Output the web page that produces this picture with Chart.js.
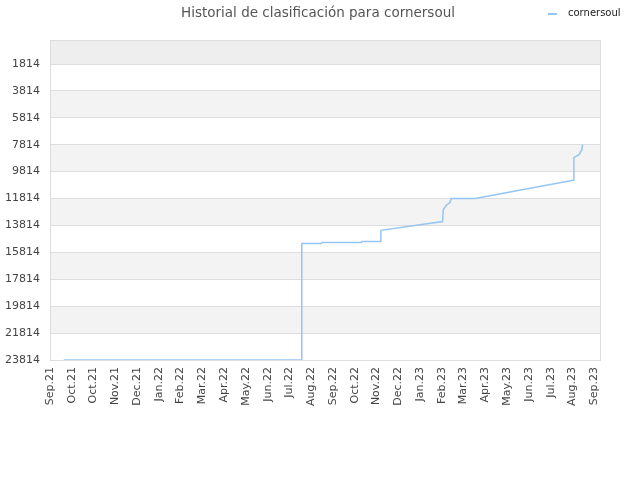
<!DOCTYPE html>
<html>
<head>
<meta charset="utf-8">
<script src="https://cdn.jsdelivr.net/npm/chart.js@4"></script>
<style>
html,body{margin:0;padding:0;background:#fff;}
#c{display:block;}
</style>
</head>
<body>
<canvas id="c" width="640" height="480"></canvas>
<script>
const chartTitle = 'Historial de clasificación para cornersoul';
const seriesName = 'cornersoul';
const startDate = '2021-09-01';
const dates = ['2021-09-20','2022-08-13','2022-08-14','2022-09-10','2022-09-11','2022-11-04','2022-11-05','2022-11-30','2022-12-01','2023-02-24','2023-02-25','2023-03-01','2023-03-06','2023-03-08','2023-04-10','2023-08-23','2023-08-24','2023-08-31','2023-09-04','2023-09-05'];
const ranks = [23814,23814,15150,15150,15075,15075,15000,15000,14180,13520,12630,12330,12110,11814,11814,10450,8780,8550,8180,7814];
const xTickLabels = ['Sep.21','Oct.21','Oct.21','Nov.21','Dec.21','Jan.22','Feb.22','Mar.22','Apr.22','May.22','Jun.22','Jul.22','Aug.22','Sep.22','Oct.22','Nov.22','Dec.22','Jan.23','Feb.23','Mar.23','Apr.23','May.23','Jun.23','Jul.23','Aug.23','Sep.23'];
const yTickValues = [1814,3814,5814,7814,9814,11814,13814,15814,17814,19814,21814,23814];
const tickStepDays = 30;
const xMaxDays = 758;
const yTop = 30;

function dayNum(s){
  const [y,m,d] = s.split('-').map(Number);
  const [y0,m0,d0] = startDate.split('-').map(Number);
  return (Date.UTC(y,m-1,d) - Date.UTC(y0,m0-1,d0)) / 86400000;
}
const points = dates.map((d,i)=>({x:dayNum(d), y:ranks[i]}));

const FONT = "'DejaVu Sans', Verdana, sans-serif";

const bandsPlugin = {
  id:'bands',
  beforeDraw(chart){
    const {ctx, chartArea:a, scales:{y}} = chart;
    ctx.save();
    ctx.fillStyle = '#ffffff';
    ctx.fillRect(a.left, a.top, a.right-a.left, a.bottom-a.top);
    const bounds = [yTop].concat(yTickValues);
    for(let i=0;i<bounds.length-1;i++){
      const p1 = y.getPixelForValue(bounds[i]);
      const p2 = y.getPixelForValue(bounds[i+1]);
      let col = null;
      if(i===0) col = '#eeeeee';
      else if(i%2===0) col = '#f3f3f3';
      if(col){
        ctx.fillStyle = col;
        ctx.fillRect(a.left, Math.min(p1,p2), a.right-a.left, Math.abs(p2-p1));
      }
    }
    ctx.restore();
  },
  beforeDatasetsDraw(chart){
    const {ctx, chartArea:a} = chart;
    ctx.save();
    ctx.strokeStyle = '#dddddd';
    ctx.lineWidth = 1;
    ctx.strokeRect(Math.round(a.left)+0.5, Math.round(a.top)+0.5, Math.round(a.right-a.left), Math.round(a.bottom-a.top));
    ctx.restore();
  },
  afterDraw(chart){
    const {ctx} = chart;
    ctx.save();
    ctx.fillStyle = '#555555';
    ctx.font = '13.5px ' + FONT;
    ctx.textAlign = 'center';
    ctx.textBaseline = 'middle';
    ctx.fillText(chartTitle, 318, 13);
    const ds = chart.data.datasets[0];
    ctx.strokeStyle = ds.borderColor;
    ctx.lineWidth = 2;
    ctx.beginPath();
    ctx.moveTo(548, 14);
    ctx.lineTo(557, 14);
    ctx.stroke();
    ctx.fillStyle = '#222222';
    ctx.font = '10px ' + FONT;
    ctx.textAlign = 'left';
    ctx.fillText(ds.label, 568, 13);
    ctx.restore();
  }
};

new Chart(document.getElementById('c'), {
  type:'line',
  data:{
    datasets:[{
      label: seriesName,
      data: points,
      borderColor:'#95c5f2',
      borderWidth:1.5,
      pointRadius:0,
      tension:0,
      fill:false
    }]
  },
  options:{
    responsive:false,
    animation:false,
    devicePixelRatio:1,
    layout:{padding:{top:40,right:40,left:0,bottom:0}},
    plugins:{legend:{display:false}, title:{display:false}, tooltip:{enabled:false}},
    scales:{
      x:{
        type:'linear',
        min:0,
        max:xMaxDays,
        afterBuildTicks(scale){
          scale.ticks = xTickLabels.map((l,i)=>({value:i*tickStepDays}));
        },
        afterFit(scale){ scale.height = 120; },
        ticks:{
          callback:(v)=>xTickLabels[Math.round(v/tickStepDays)],
          minRotation:90, maxRotation:90,
          autoSkip:false,
          color:'#444444',
          font:{family:FONT, size:11},
          padding:7
        },
        grid:{display:false, drawTicks:false},
        border:{display:true, color:'#dddddd'}
      },
      y:{
        type:'linear',
        reverse:true,
        min:yTop,
        max:23814,
        afterBuildTicks(scale){
          scale.ticks = yTickValues.map(v=>({value:v}));
        },
        afterFit(scale){ scale.width = 50; },
        ticks:{
          callback:(v)=>String(v),
          color:'#444444',
          font:{family:FONT, size:11},
          padding:10
        },
        grid:{color:'#dddddd', drawTicks:false},
        border:{display:true, color:'#dddddd'}
      }
    }
  },
  plugins:[bandsPlugin]
});
</script>
</body>
</html>
